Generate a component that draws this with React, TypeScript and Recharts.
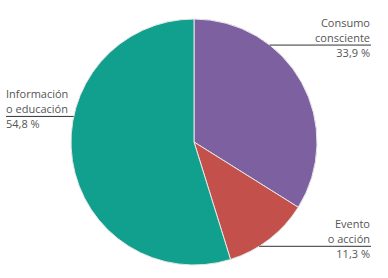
import React from 'react';
import { PieChart, Pie, Cell } from 'recharts';

// Tipo de contenido (%), clockwise from 12 o'clock
const categories = ['Consumo\nconsciente', 'Evento\no acción', 'Información\no educación'];
const shares = [33.9, 11.3, 54.8];
const colors = ['#7d60a0', '#c4504b', '#11a08e'];

// angle (deg) where each leader line meets the rim
const leaderAngles = [52, -58, 168];

const data = categories.map((name, i) => ({ name, value: shares[i] }));

const fmt = (v: number) => v.toFixed(1).replace('.', ',') + ' %';

const RADIAN = Math.PI / 180;

function renderLabel(props: any) {
  const { cx, cy, outerRadius, index, name, value } = props;
  const a = leaderAngles[index] * RADIAN;
  const y = cy - outerRadius * Math.sin(a);
  const xEdge = cx + outerRadius * Math.cos(a);
  const right = Math.cos(a) >= 0;
  const xText = right ? 370 : 6;
  const xEnd = right ? 371 : 6;
  const anchor = right ? 'end' : 'start';
  const lines = String(name).split('\n');
  const txt = { fontFamily: 'Open Sans', fontSize: 11, fill: '#555' };
  return (
    <g>
      <line x1={xEdge} y1={y} x2={xEnd} y2={y} stroke="#333" strokeWidth={1} />
      <text x={xText} y={y - 23} textAnchor={anchor} dominantBaseline="central" {...txt}>
        {lines[0]}
      </text>
      <text x={xText} y={y - 8} textAnchor={anchor} dominantBaseline="central" {...txt}>
        {lines[1]}
      </text>
      <text x={xText} y={y + 7} textAnchor={anchor} dominantBaseline="central" {...txt}>
        {fmt(value)}
      </text>
    </g>
  );
}

export default function App() {
  return (
    <div style={{ position: 'absolute', left: 0, top: 0, background: '#fff' }}>
      <PieChart width={388} height={278} margin={{ top: 0, right: 0, bottom: 0, left: 0 }}>
        <Pie
          data={data}
          dataKey="value"
          nameKey="name"
          cx={194}
          cy={142}
          outerRadius={123}
          startAngle={90}
          endAngle={-270}
          stroke="#e6e6e6"
          strokeWidth={1}
          label={renderLabel}
          labelLine={false}
          isAnimationActive={false}
        >
          {data.map((d, i) => (
            <Cell key={d.name} fill={colors[i]} />
          ))}
        </Pie>
      </PieChart>
    </div>
  );
}
